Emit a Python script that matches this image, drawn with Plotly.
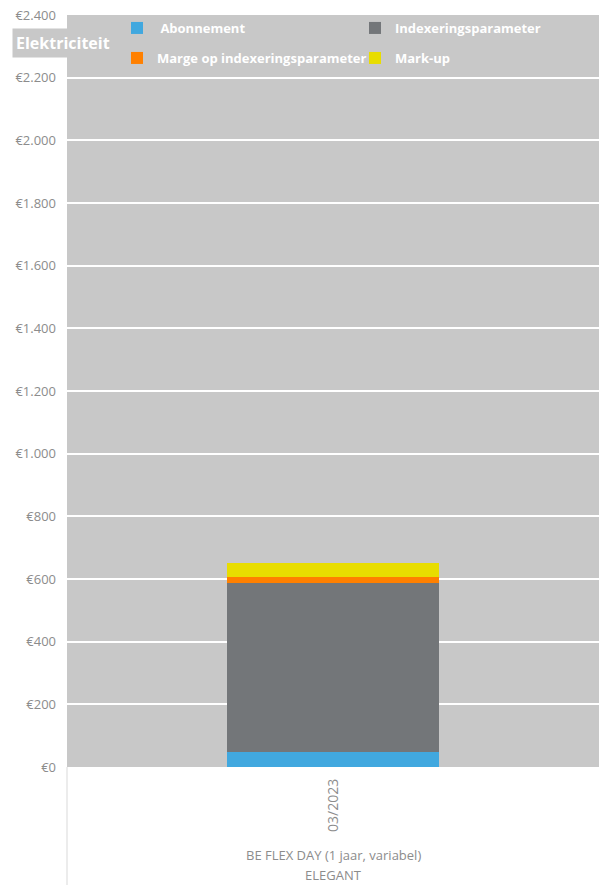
import plotly.graph_objects as go

categories = ["03/2023"]
product = "BE FLEX DAY (1 jaar, variabel)"
supplier = "ELEGANT"

series_names = ["\u00a0Abonnement", "Indexeringsparameter", "Marge op indexeringsparameter", "Mark-up"]
series_values = [[48], [540], [19], [43]]
series_colors = ["#41a8df", "#737679", "#ff8000", "#e8dd00"]
legend_rows = ["legend", "legend", "legend2", "legend2"]

W, H = 599, 885
ML, MR, MT, MB = 67, 0, 15, 885 - 767
PW, PH = W - ML - MR, H - MT - MB


def px_x(x):
    return (x - ML) / PW


def px_y(y):
    return 1 - (y - MT) / PH


fig = go.Figure()
for name, vals, col, lg in zip(series_names, series_values, series_colors, legend_rows):
    fig.add_trace(go.Bar(x=categories, y=vals, name=name, marker_color=col,
                         marker_line_width=0, width=0.4, legend=lg))

legend_style = dict(
    orientation="h", xanchor="left", yanchor="middle",
    bgcolor="rgba(0,0,0,0)", entrywidth=193, itemwidth=30,
    font=dict(color="white", size=13, family="Open Sans", weight="bold"),
    traceorder="normal",
)

fig.update_layout(
    width=W, height=H,
    margin=dict(l=ML, r=MR, t=MT, b=MB, autoexpand=False),
    barmode="stack",
    plot_bgcolor="#c8c8c8",
    paper_bgcolor="white",
    separators=",.",
    font=dict(family="Open Sans", color="#8c8c8c", size=13),
    showlegend=True,
    legend=dict(x=px_x(117), y=px_y(28), **legend_style),
    legend2=dict(x=px_x(117), y=px_y(58), **legend_style),
    xaxis=dict(tickangle=-90, showgrid=False, zeroline=False, showline=False,
               ticks="", ticklabelstandoff=8, tickfont=dict(color="#8c8c8c", size=14)),
    yaxis=dict(range=[0, 2400], dtick=200, tickprefix="€", tickformat=",d",
               gridcolor="white", gridwidth=1.5, zeroline=False, showline=False,
               ticks="", ticklabelstandoff=10, ticklabeloverflow="allow",
               tickfont=dict(color="#8c8c8c", size=13)),
)

# level labels below the category axis
fig.add_annotation(text=product, xref="x", x=0, yref="paper", y=px_y(855),
                   showarrow=False, yanchor="middle", font=dict(size=13, color="#8c8c8c"))
fig.add_annotation(text=supplier, xref="x", x=0, yref="paper", y=px_y(875),
                   showarrow=False, yanchor="middle", font=dict(size=13, color="#8c8c8c"))

# left separator line under the axis
fig.add_shape(type="line", xref="paper", yref="paper", x0=0, x1=0,
              y0=0, y1=-MB / PH, line=dict(color="#d9d9d9", width=1))

# chart title box
fig.add_annotation(text="<b>Elektriciteit</b>", xref="paper", x=px_x(12),
                   yref="paper", y=px_y(43), xanchor="left", yanchor="middle",
                   showarrow=False, bgcolor="#c8c8c8", borderpad=3,
                   font=dict(size=16, color="white", family="Open Sans"))

# drop the default 8px page margin so the figure fills the window
fig.write_html("out.html", config={"displayModeBar": False},
               post_script="document.body.style.margin = '0';")
